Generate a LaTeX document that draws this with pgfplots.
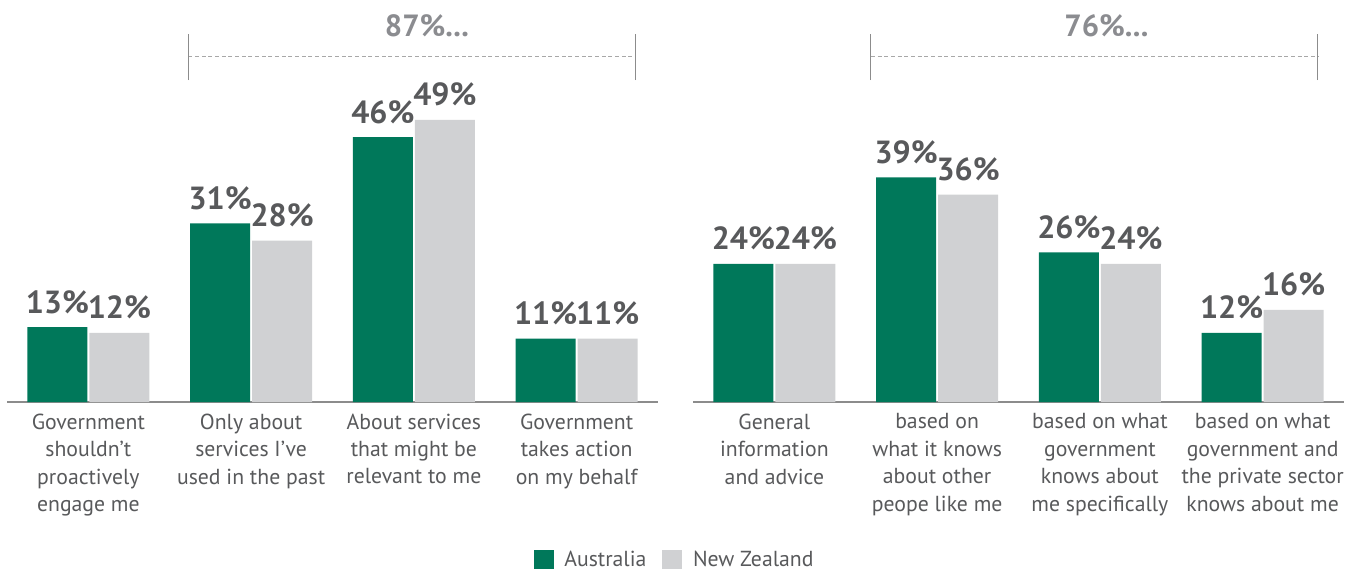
\documentclass[border=0pt]{standalone}
\usepackage{fontspec}
\setmainfont{PT Sans}
\usepackage{pgfplots}
\pgfplotsset{compat=1.18}
\definecolor{ausgreen}{HTML}{00785A}
\definecolor{nzgrey}{HTML}{D0D1D3}
\definecolor{labelcol}{HTML}{58595B}
\definecolor{brackcol}{HTML}{8B8C90}
\definecolor{axiscol}{HTML}{8C8C8C}
\definecolor{dashcol}{HTML}{A8A8A8}
\pgfplotsset{
  mybars/.style={
    scale only axis, width=488.25pt, height=302.4pt,
    xmin=-0.5, xmax=3.5, ymin=0, ymax=70,
    axis x line*=bottom, axis y line=none,
    x axis line style={draw=axiscol, line width=1.1pt, -},
    xtick={0,1,2,3}, major tick length=0pt, xtick style={draw=none},
    xticklabel style={font=\fontsize{16.3}{20.6}\selectfont, align=center, text=labelcol, anchor=north, inner sep=0pt, yshift=-8.5pt},
    clip=false,
    /pgf/number format/assume math mode=true,
  },
  ausbar/.style={ybar, fill=ausgreen, draw=none, bar width=45pt, bar shift=-23.25pt,
    nodes near coords={\pgfmathprintnumber{\pgfplotspointmeta}\%},
    every node near coord/.style={font=\fontsize{24}{24}\selectfont\bfseries, text=labelcol, anchor=base, inner sep=0pt, yshift=10.5pt, xshift=-23.25pt}},
  nzbar/.style={ybar, fill=nzgrey, draw=none, bar width=45pt, bar shift=23.25pt,
    nodes near coords={\pgfmathprintnumber{\pgfplotspointmeta}\%},
    every node near coord/.style={font=\fontsize{24}{24}\selectfont\bfseries, text=labelcol, anchor=base, inner sep=0pt, yshift=10.5pt, xshift=23.25pt}},
}
\begin{document}
\begin{tikzpicture}
\path[use as bounding box] (0pt,0pt) rectangle (1014.75pt,-429pt);
% Left panel
\begin{axis}[mybars, at={(5.25pt,-301.5pt)}, anchor=south west,
  xticklabels={{Government\\shouldn’t\\proactively\\engage me},{Only about\\services I’ve\\used in the past},{About services\\that might be\\relevant to me},{Government\\takes action\\on my behalf}},
  legend style={at={(1.026,-0.392)}, anchor=center, draw=none, fill=none, legend columns=2,
    font=\fontsize{16.3}{16.3}\selectfont, text=labelcol,
    /tikz/every odd column/.append style={column sep=6pt},
    /tikz/every even column/.append style={column sep=10pt}},
  legend image code/.code={\fill[#1] (0pt,-7pt) rectangle (15pt,7.25pt);},
]
\addplot[ausbar] coordinates {(0,13) (1,31) (2,46) (3,11)};
\addlegendentry{Australia}
\addplot[nzbar] coordinates {(0,12) (1,28) (2,49) (3,11)};
\addlegendentry{New Zealand}
\draw[dashcol, line width=0.75pt, dash pattern=on 3pt off 2pt] (axis cs:0.615,59.9) -- (axis cs:3.36,59.9);
\draw[axiscol, line width=0.75pt] (axis cs:0.615,55.9) -- (axis cs:0.615,63.9);
\draw[axiscol, line width=0.75pt] (axis cs:3.36,55.9) -- (axis cs:3.36,63.9);
\node[anchor=base, inner sep=0pt, font=\fontsize{23}{23}\selectfont\bfseries, text=brackcol] at (axis cs:2.08,63.5) {87\%...};
\end{axis}
% Right panel
\begin{axis}[mybars, at={(519.75pt,-301.5pt)}, anchor=south west,
  xticklabels={{General\\information\\and advice},{based on\\what it knows\\about other\\peope like me},{based on what\\government\\knows about\\me specifically},{based on what\\government and\\the private sector\\knows about me}},
]
\addplot[ausbar] coordinates {(0,24) (1,39) (2,26) (3,12)};
\addplot[nzbar] coordinates {(0,24) (1,36) (2,24) (3,16)};
\draw[dashcol, line width=0.75pt, dash pattern=on 3pt off 2pt] (axis cs:0.593,59.9) -- (axis cs:3.34,59.9);
\draw[axiscol, line width=0.75pt] (axis cs:0.593,55.9) -- (axis cs:0.593,63.9);
\draw[axiscol, line width=0.75pt] (axis cs:3.34,55.9) -- (axis cs:3.34,63.9);
\node[anchor=base, inner sep=0pt, font=\fontsize{23}{23}\selectfont\bfseries, text=brackcol] at (axis cs:2.04,63.5) {76\%...};
\end{axis}
\end{tikzpicture}
\end{document}
